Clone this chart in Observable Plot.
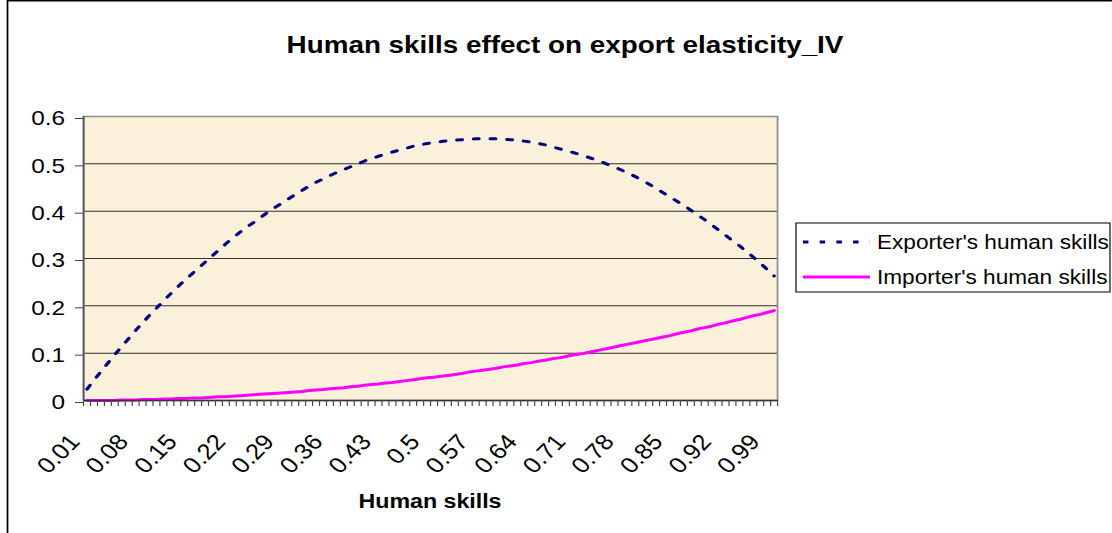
<!DOCTYPE html>
<html><head><meta charset="utf-8">
<script src="https://cdn.jsdelivr.net/npm/d3@7"></script>
<script src="https://cdn.jsdelivr.net/npm/@observablehq/plot@0.6"></script>
<style>
html,body{margin:0;padding:0;background:#fff;}
#wrap{position:relative;width:1112px;height:533px;overflow:hidden;background:#fff;}
#wrap svg{position:absolute;left:0;top:0;transform-origin:0 0;}
</style></head><body><div id="wrap"></div>
<script>
const humanSkills = [0.01,0.02,0.03,0.04,0.05,0.06,0.07,0.08,0.09,0.10,
0.11,0.12,0.13,0.14,0.15,0.16,0.17,0.18,0.19,0.20,
0.21,0.22,0.23,0.24,0.25,0.26,0.27,0.28,0.29,0.30,
0.31,0.32,0.33,0.34,0.35,0.36,0.37,0.38,0.39,0.40,
0.41,0.42,0.43,0.44,0.45,0.46,0.47,0.48,0.49,0.50,
0.51,0.52,0.53,0.54,0.55,0.56,0.57,0.58,0.59,0.60,
0.61,0.62,0.63,0.64,0.65,0.66,0.67,0.68,0.69,0.70,
0.71,0.72,0.73,0.74,0.75,0.76,0.77,0.78,0.79,0.80,
0.81,0.82,0.83,0.84,0.85,0.86,0.87,0.88,0.89,0.90,
0.91,0.92,0.93,0.94,0.95,0.96,0.97,0.98,0.99,1.00];

const exporterSkills = [0.024,0.043,0.061,0.079,0.097,0.114,0.131,0.148,0.164,0.180,
0.195,0.210,0.225,0.239,0.253,0.266,0.279,0.292,0.305,0.318,
0.331,0.344,0.355,0.366,0.376,0.387,0.397,0.407,0.416,0.426,
0.435,0.444,0.453,0.461,0.468,0.475,0.482,0.488,0.494,0.500,
0.506,0.511,0.516,0.521,0.525,0.529,0.533,0.537,0.540,0.543,
0.545,0.547,0.549,0.550,0.551,0.552,0.553,0.553,0.553,0.553,
0.552,0.551,0.550,0.548,0.546,0.543,0.540,0.536,0.532,0.528,
0.524,0.520,0.515,0.510,0.505,0.499,0.493,0.487,0.480,0.473,
0.465,0.457,0.448,0.439,0.430,0.421,0.412,0.402,0.392,0.382,
0.371,0.360,0.349,0.338,0.327,0.315,0.303,0.290,0.277,0.263];

const importerSkills = [0.000,0.000,0.000,0.000,0.000,0.001,0.001,0.001,0.002,0.002,
0.002,0.003,0.003,0.004,0.004,0.005,0.005,0.006,0.007,0.008,
0.008,0.009,0.010,0.011,0.012,0.013,0.014,0.015,0.016,0.017,
0.018,0.019,0.021,0.022,0.023,0.025,0.026,0.027,0.029,0.030,
0.032,0.034,0.035,0.037,0.038,0.040,0.042,0.044,0.046,0.048,
0.049,0.051,0.053,0.055,0.057,0.060,0.062,0.064,0.066,0.068,
0.071,0.073,0.075,0.078,0.080,0.083,0.085,0.088,0.090,0.093,
0.096,0.098,0.101,0.104,0.107,0.110,0.113,0.116,0.119,0.122,
0.125,0.128,0.131,0.134,0.137,0.141,0.144,0.147,0.151,0.154,
0.157,0.161,0.164,0.168,0.171,0.175,0.179,0.182,0.186,0.190];

const seriesNames = ["Exporter's human skills", "Importer's human skills"];
const seriesColors = ["#000080", "#FF00FF"];
const xTickValues = [0.01,0.08,0.15,0.22,0.29,0.36,0.43,0.50,0.57,0.64,0.71,0.78,0.85,0.92,0.99];
const xTickLabels = ["0.01","0.08","0.15","0.22","0.29","0.36","0.43","0.5","0.57","0.64","0.71","0.78","0.85","0.92","0.99"];
const yTicks = [0,0.1,0.2,0.3,0.4,0.5,0.6];
const yTickLabels = ["0","0.1","0.2","0.3","0.4","0.5","0.6"];
const titleText = "Human skills effect on export elasticity_IV";
const xTitle = "Human skills";

// horizontal stretch factor of the original picture
const S = 1.16;
const W = 1112 / S;
const px = v => v / S; // real pixel x -> inner x

const exporterRows = humanSkills.map((x, i) => ({x, y: exporterSkills[i]}));
const importerRows = humanSkills.map((x, i) => ({x, y: importerSkills[i]}));
const edges = [humanSkills[0] - 0.005, ...humanSkills.map(v => v + 0.005)];

const chart = Plot.plot({
  width: W,
  height: 533,
  marginLeft: px(83),
  marginRight: px(1112 - 777),
  marginTop: 116,
  marginBottom: 133,
  x: {type: "linear", domain: [edges[0], edges[edges.length - 1]], label: null},
  y: {domain: [0, 0.6], label: null},
  style: {fontFamily: "'Liberation Sans', Arial, sans-serif", fontSize: "21px", color: "#000", background: "transparent", overflow: "visible"},
  marks: [
    Plot.frame({fill: "#FBF1DB", stroke: null}),
    Plot.gridY(yTicks.slice(1, -1), {stroke: "#000", strokeOpacity: 0.8, strokeWidth: 1}),
    Plot.frame({stroke: "#8c8c8c", strokeWidth: 1.5}),
    Plot.line(importerRows, {x: "x", y: "y", stroke: seriesColors[1], strokeWidth: 3}),
    Plot.line(exporterRows, {x: "x", y: "y", stroke: seriesColors[0], strokeWidth: 3, strokeDasharray: "4.7,9.7"}),
    Plot.ruleX([edges[0]], {stroke: "#555", strokeWidth: 1.5}),
    Plot.ruleY([0], {stroke: "#333", strokeWidth: 1.5}),
    Plot.axisY(yTicks, {label: null, tickSize: px(8), tickPadding: 9, tickFormat: (d, i) => yTickLabels[i], stroke: "#444", dy: 2, fontSize: 21}),
    Plot.axisX(edges, {label: null, tickSize: 6, tickFormat: () => "", stroke: "#444"}),
    Plot.text(xTickValues, {x: d => d, text: (d, i) => xTickLabels[i], frameAnchor: "bottom", rotate: -49, textAnchor: "end", dx: px(-6), dy: 42, fontSize: 22})
  ]
});

chart.style.transform = `scaleX(${S})`;
document.getElementById("wrap").appendChild(chart);

const svg = d3.select(chart);
const ff = "'Liberation Sans', Arial, sans-serif";
// outer chart border
svg.append("line").attr("x1", px(7.5)).attr("x2", px(7.5)).attr("y1", 0).attr("y2", 533).attr("stroke", "#000").attr("stroke-width", 1.5);
svg.append("line").attr("x1", px(7)).attr("x2", W).attr("y1", 0.75).attr("y2", 0.75).attr("stroke", "#000").attr("stroke-width", 1.5);
// title
svg.append("text").attr("x", px(565)).attr("y", 53).attr("text-anchor", "middle")
  .attr("font-family", ff).attr("font-weight", "bold").attr("font-size", 24).text(titleText);
// x axis title
svg.append("text").attr("x", px(430)).attr("y", 508).attr("text-anchor", "middle")
  .attr("font-family", ff).attr("font-weight", "bold").attr("font-size", 20).text(xTitle);
// legend
const lg = svg.append("g").attr("text-anchor", "start");
lg.append("rect").attr("x", px(796)).attr("y", 223).attr("width", px(1110 - 796)).attr("height", 69)
  .attr("fill", "#fff").attr("stroke", "#000").attr("stroke-width", 1);
const ly = [242, 277];
seriesNames.forEach((name, i) => {
  lg.append("line").attr("x1", px(803)).attr("x2", px(870)).attr("y1", ly[i]).attr("y2", ly[i])
    .attr("stroke", seriesColors[i]).attr("stroke-width", 3)
    .attr("stroke-dasharray", i === 0 ? "4.7,9.7" : null);
  lg.append("text").attr("x", px(877)).attr("y", ly[i] + 7).attr("text-anchor", "start")
    .attr("font-family", ff).attr("font-size", 19.5).text(name);
});
</script></body></html>
